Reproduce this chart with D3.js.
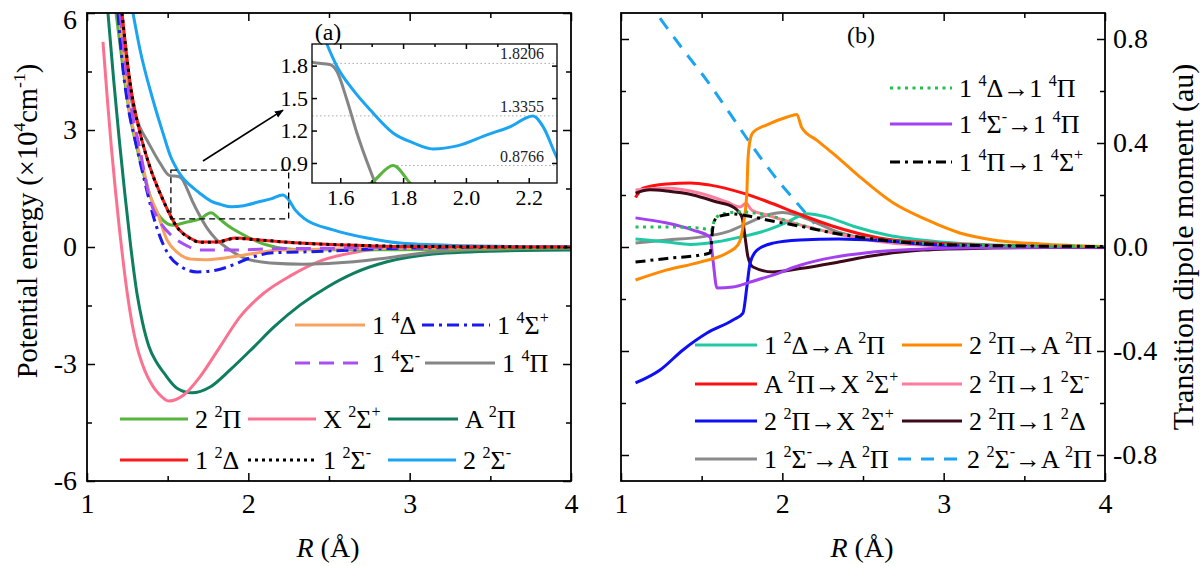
<!DOCTYPE html>
<html lang="en">
<head>
<meta charset="utf-8">
<title>PECs and TDMs</title>
<script src="https://cdn.jsdelivr.net/npm/d3@7/dist/d3.min.js"></script>
<style>
  body { margin: 0; background: #fff; }
</style>
</head>
<body>
<script>
// ---- data: potential energy curves (R in Å, E in 10^4 cm^-1) ----
var pec_22Pi  = [[1.18,6.0],[1.217,4.79],[1.26,3.51],[1.329,2.23],[1.39,1.33],[1.453,0.77],[1.533,0.56],[1.62,0.64],[1.70,0.72],[1.768,0.8766],[1.822,0.715],[1.87,0.56],[1.949,0.36],[2.116,0.05],[2.32,-0.07],[2.94,-0.07],[4,-0.03]];
var pec_X2Sp  = [[1.099,5.26],[1.125,3.85],[1.15,2.6],[1.175,1.5],[1.20,0.5],[1.225,-0.4],[1.25,-1.2],[1.28,-1.98],[1.31,-2.56],[1.34,-2.97],[1.372,-3.3],[1.41,-3.58],[1.446,-3.77],[1.508,-3.95],[1.601,-3.79],[1.70,-3.33],[1.824,-2.56],[1.948,-1.79],[2.097,-1.18],[2.26,-0.74],[2.444,-0.36],[2.655,-0.14],[2.86,-0.04],[3.3,-0.01],[4,0]];
var pec_A2Pi  = [[1.13,6.0],[1.165,4.3],[1.20,2.75],[1.235,1.35],[1.27,0.05],[1.31,-1.2],[1.345,-1.95],[1.384,-2.55],[1.43,-2.95],[1.477,-3.23],[1.558,-3.62],[1.651,-3.74],[1.763,-3.59],[1.887,-3.15],[2.035,-2.56],[2.159,-2.05],[2.32,-1.49],[2.488,-1.03],[2.655,-0.67],[2.86,-0.38],[3.145,-0.18],[3.56,-0.10],[4,-0.08]];
var pec_12Del = [[1.217,6.0],[1.242,5.05],[1.267,4.21],[1.329,2.92],[1.39,2.05],[1.471,1.21],[1.558,0.51],[1.639,0.23],[1.70,0.13],[1.806,0.13],[1.918,0.23],[2.07,0.18],[2.32,0.10],[2.63,0.05],[2.94,0.01],[4,0]];
var pec_12Sm  = [[1.217,6.0],[1.242,5.05],[1.267,4.21],[1.329,2.92],[1.39,2.05],[1.471,1.21],[1.558,0.51],[1.639,0.22],[1.70,0.12],[1.806,0.13],[1.918,0.22],[2.07,0.18],[2.32,0.10],[2.63,0.05],[2.94,0.02],[4,0]];
var pec_22Sm  = [[1.285,6.0],[1.329,5.05],[1.409,3.77],[1.471,2.92],[1.52,2.3],[1.558,1.995],[1.59,1.79],[1.64,1.578],[1.695,1.392],[1.768,1.178],[1.832,1.086],[1.895,1.03],[1.972,1.058],[2.067,1.16],[2.14,1.234],[2.214,1.3355],[2.246,1.234],[2.29,0.95],[2.35,0.72],[2.525,0.44],[2.736,0.23],[2.94,0.10],[3.356,0.03],[4,0]];
var pec_14Del = [[1.198,6.0],[1.229,4.79],[1.254,3.77],[1.304,2.74],[1.347,2.05],[1.39,1.33],[1.434,0.90],[1.496,0.18],[1.558,-0.13],[1.639,-0.31],[1.732,-0.33],[1.856,-0.28],[2.011,-0.18],[2.197,-0.08],[2.507,-0.05],[2.94,-0.03],[4,0]];
var pec_14Sp  = [[1.192,6.0],[1.217,4.79],[1.248,3.77],[1.298,2.74],[1.341,1.97],[1.378,1.33],[1.409,0.82],[1.453,0.26],[1.496,-0.13],[1.577,-0.49],[1.682,-0.64],[1.806,-0.59],[1.905,-0.46],[2.011,-0.28],[2.153,-0.15],[2.32,-0.13],[2.63,-0.08],[2.94,-0.03],[4,0]];
var pec_14Sm  = [[1.205,6.0],[1.236,4.79],[1.267,3.77],[1.329,2.49],[1.39,1.21],[1.453,0.64],[1.533,0.26],[1.62,0.03],[1.70,-0.08],[1.905,-0.08],[2.116,-0.05],[2.525,-0.03],[2.94,0],[4,0]];
var pec_14Pi  = [[1.20,6.0],[1.23,4.95],[1.26,4.1],[1.29,3.5],[1.33,3.05],[1.372,2.74],[1.453,2.15],[1.513,1.83],[1.567,1.81],[1.59,1.744],[1.621,1.485],[1.653,1.178],[1.695,0.835],[1.75,0.45],[1.80,0.2],[1.86,0.0],[1.973,-0.28],[2.135,-0.41],[2.345,-0.44],[2.655,-0.38],[2.86,-0.28],[3.145,-0.13],[3.56,-0.05],[4,0]];

// ---- data: transition dipole moments (au) ----
var tdm_12Del_A2Pi  = [[1.09,0.031],[1.285,0.019],[1.43,0.01],[1.595,0.02],[1.738,0.038],[1.905,0.065],[2.03,0.096],[2.153,0.128],[2.277,0.115],[2.44,0.08],[2.65,0.046],[2.98,0.019],[3.3,0.008],[4,0.001]];
var tdm_22Pi_A2Pi   = [[1.09,-0.127],[1.285,-0.088],[1.49,-0.058],[1.657,-0.023],[1.725,0.008],[1.756,0.077],[1.78,0.21],[1.787,0.335],[1.80,0.41],[1.818,0.44],[1.905,0.47],[2.03,0.50],[2.09,0.51],[2.12,0.46],[2.215,0.41],[2.314,0.36],[2.48,0.27],[2.686,0.17],[2.897,0.104],[3.10,0.054],[3.306,0.027],[3.6,0.012],[4,0.002]];
var tdm_A2Pi_X2Sp   = [[1.09,0.19],[1.136,0.226],[1.285,0.242],[1.43,0.246],[1.552,0.238],[1.756,0.207],[1.905,0.175],[2.09,0.13],[2.314,0.08],[2.6,0.035],[2.94,0.015],[3.4,0.004],[4,0]];
var tdm_22Pi_12Sm   = [[1.09,0.219],[1.285,0.226],[1.49,0.207],[1.657,0.173],[1.738,0.154],[1.775,0.168],[1.81,0.142],[1.905,0.123],[2.11,0.085],[2.314,0.054],[2.624,0.019],[3.0,0.004],[4,-0.003]];
var tdm_22Pi_X2Sp   = [[1.09,-0.523],[1.242,-0.473],[1.384,-0.396],[1.533,-0.331],[1.694,-0.281],[1.756,-0.254],[1.78,-0.154],[1.80,-0.062],[1.843,-0.012],[1.942,0.015],[2.11,0.027],[2.35,0.031],[2.6,0.025],[2.9,0.01],[3.3,0.002],[4,0]];
var tdm_22Pi_12Del  = [[1.09,0.207],[1.18,0.22],[1.285,0.215],[1.446,0.20],[1.595,0.173],[1.694,0.154],[1.75,0.115],[1.769,0.038],[1.787,-0.038],[1.818,-0.077],[1.942,-0.096],[2.11,-0.083],[2.35,-0.058],[2.55,-0.035],[2.87,-0.012],[3.3,-0.004],[4,0]];
var tdm_12Sm_A2Pi   = [[1.09,0.015],[1.285,0.027],[1.49,0.038],[1.657,0.058],[1.80,0.096],[1.905,0.123],[2.0,0.133],[2.11,0.118],[2.215,0.092],[2.314,0.065],[2.45,0.04],[2.7,0.018],[3.1,0.005],[4,0]];
var tdm_22Sm_A2Pi   = [[1.242,0.88],[1.384,0.76],[1.533,0.64],[1.657,0.53],[1.80,0.40],[1.942,0.28],[2.09,0.17],[2.2,0.09]];
var tdm_14Del_14Pi  = [[1.09,0.077],[1.285,0.077],[1.49,0.073],[1.56,0.065],[1.583,0.11],[1.657,0.131],[1.738,0.135],[1.905,0.123],[2.11,0.085],[2.314,0.055],[2.525,0.035],[2.8,0.017],[3.2,0.006],[4,0.002]];
var tdm_14Sm_14Pi   = [[1.09,0.112],[1.285,0.092],[1.446,0.065],[1.552,0.038],[1.57,-0.05],[1.595,-0.158],[1.694,-0.154],[1.80,-0.135],[1.942,-0.108],[2.11,-0.07],[2.314,-0.04],[2.525,-0.022],[2.8,-0.01],[3.3,-0.002],[4,0]];
var tdm_14Pi_14Sp   = [[1.09,-0.058],[1.285,-0.044],[1.49,-0.031],[1.552,-0.023],[1.57,0.077],[1.595,0.115],[1.694,0.127],[1.80,0.118],[1.905,0.104],[2.11,0.08],[2.314,0.054],[2.525,0.034],[2.8,0.016],[3.2,0.006],[4,0.002]];

// ---- ticks and labels ----
var rTicks = [1, 2, 3, 4];
var rMinor = [1.5, 2.5, 3.5];
var eTicks = [-6, -3, 0, 3, 6];
var eMinor = [-4.5, -1.5, 1.5, 4.5];
var dTicks = [-0.8, -0.4, 0, 0.4, 0.8];
var dMinor = [-0.6, -0.2, 0.2, 0.6];
var insetRTicks = [1.6, 1.8, 2.0, 2.2];
var insetRMinor = [1.7, 1.9, 2.1];
var insetETicks = [0.9, 1.2, 1.5, 1.8];
var insetRefE = [1.8206, 1.3355, 0.8766];
var insetRefLabels = ["1.8206", "1.3355", "0.8766"];
var insetRefFrom = [1.575, 1.51, 1.768];
var zoomBoxR = [1.52, 2.25];
var zoomBoxE = [0.72, 1.97];
var arrowFrom = [1.719, 2.205];
var arrowTo = [2.215, 3.51];

var font = '"Liberation Serif","Times New Roman",serif';
var w = 1200, h = 566;

var svg = d3.select('body').append('svg')
            .attr('width', w)
            .attr('height', h)
            .attr('font-family', font);
svg.append('rect').attr('width', w).attr('height', h).attr('fill', '#fff');

var xL = d3.scaleLinear().domain([1, 4]).range([87, 571]);
var yL = d3.scaleLinear().domain([-6, 6]).range([481, 13]);
var xR = d3.scaleLinear().domain([1, 4]).range([621, 1105]);
var yR = d3.scaleLinear().domain([-0.9, 0.9]).range([481, 13]);
var xI = d3.scaleLinear().domain([1.51, 2.29]).range([312, 557]);
var yI = d3.scaleLinear().domain([0.715, 2.0]).range([183, 44]);

// text with ^{...} superscripts
function rich(sel, str, fs) {
  var parts = str.split(/(\^\{[^}]*\})/);
  var up = false;
  parts.forEach(function(p) {
    if (!p) return;
    if (p.indexOf('^{') === 0) {
      sel.append('tspan').attr('font-size', fs * 0.62).attr('dy', up ? 0 : -fs * 0.42).text(p.slice(2, -1));
      up = true;
    } else {
      sel.append('tspan').attr('font-size', fs).attr('dy', up ? fs * 0.42 : 0).text(p);
      up = false;
    }
  });
  return sel;
}

function addAxis(gen, scale, vals, size, tx, ty, fmt, pad, fs) {
  var a = gen(scale).tickValues(vals).tickSize(-size)
            .tickPadding(pad || 0).tickFormat(fmt || function() { return ''; });
  var g = svg.append('g').attr('transform', 'translate(' + tx + ',' + ty + ')').call(a);
  g.select('.domain').remove();
  g.selectAll('line').attr('stroke', '#000').attr('stroke-width', 1.5);
  g.selectAll('text').attr('font-family', font).attr('font-size', fs || 28).attr('fill', '#000');
  return g;
}

function clip(id, x, y, cw, ch) {
  svg.append('clipPath').attr('id', id).append('rect')
     .attr('x', x).attr('y', y).attr('width', cw).attr('height', ch);
}
clip('clipL', 87, 13, 484, 468);
clip('clipR', 621, 13, 484, 468);
clip('clipI', 312, 44, 245, 139);

function drawLines(series, x, y, clipId) {
  var line = d3.line().x(function(d) { return x(d[0]); })
                      .y(function(d) { return y(d[1]); })
                      .curve(d3.curveMonotoneX);
  svg.append('g').attr('clip-path', 'url(#' + clipId + ')')
     .selectAll('path').data(series).enter().append('path')
     .attr('d', function(s) { return line(s.data); })
     .attr('fill', 'none')
     .attr('stroke', function(s) { return s.color; })
     .attr('stroke-width', function(s) { return s.width || 3; })
     .attr('stroke-dasharray', function(s) { return s.dash || null; })
     .attr('stroke-linecap', function(s) { return s.cap || 'butt'; });
}

function legend(items, fs) {
  items.forEach(function(it) {
    svg.append('line')
       .attr('x1', it.x).attr('x2', it.x + it.len).attr('y1', it.y).attr('y2', it.y)
       .attr('stroke', it.s.color).attr('stroke-width', it.s.width || 3)
       .attr('stroke-dasharray', it.s.dash || null)
       .attr('stroke-linecap', it.s.cap || 'butt');
    var t = svg.append('text').attr('x', it.x + it.len + 7).attr('y', it.y + fs * 0.36)
               .attr('font-size', fs).attr('fill', '#000');
    rich(t, it.s.name, fs);
  });
}

// ---- series tables ----
var S = {
  p22Pi:  { name: '2 ^{2}Π', data: pec_22Pi, color: '#57b43c' },
  pX2Sp:  { name: 'X ^{2}Σ^{+}', data: pec_X2Sp, color: '#fb7291' },
  pA2Pi:  { name: 'A ^{2}Π', data: pec_A2Pi, color: '#0f7d5f' },
  p12Del: { name: '1 ^{2}Δ', data: pec_12Del, color: '#ff1a1a' },
  p12Sm:  { name: '1 ^{2}Σ^{-}', data: pec_12Sm, color: '#000', dash: '3,4' },
  p22Sm:  { name: '2 ^{2}Σ^{-}', data: pec_22Sm, color: '#1aa4f2' },
  p14Del: { name: '1 ^{4}Δ', data: pec_14Del, color: '#f6a263' },
  p14Sp:  { name: '1 ^{4}Σ^{+}', data: pec_14Sp, color: '#1a1aee', dash: '12,5,3,5' },
  p14Sm:  { name: '1 ^{4}Σ^{-}', data: pec_14Sm, color: '#a94ef2', dash: '15,9' },
  p14Pi:  { name: '1 ^{4}Π', data: pec_14Pi, color: '#858585' },

  tA:  { name: '1 ^{2}Δ→A ^{2}Π', data: tdm_12Del_A2Pi, color: '#20c9a5' },
  tB:  { name: '2 ^{2}Π→A ^{2}Π', data: tdm_22Pi_A2Pi, color: '#ff8a00' },
  tC:  { name: 'A ^{2}Π→X ^{2}Σ^{+}', data: tdm_A2Pi_X2Sp, color: '#ff1010' },
  tD:  { name: '2 ^{2}Π→1 ^{2}Σ^{-}', data: tdm_22Pi_12Sm, color: '#ff7c9c' },
  tE:  { name: '2 ^{2}Π→X ^{2}Σ^{+}', data: tdm_22Pi_X2Sp, color: '#0f0ff5' },
  tF:  { name: '2 ^{2}Π→1 ^{2}Δ', data: tdm_22Pi_12Del, color: '#3c0a18' },
  tG:  { name: '1 ^{2}Σ^{-}→A ^{2}Π', data: tdm_12Sm_A2Pi, color: '#8a8a8a' },
  tH:  { name: '2 ^{2}Σ^{-}→A ^{2}Π', data: tdm_22Sm_A2Pi, color: '#1aa4f2', dash: '13,10' },
  tI:  { name: '1 ^{4}Δ→1 ^{4}Π', data: tdm_14Del_14Pi, color: '#1fbf50', dash: '3,4.5' },
  tJ:  { name: '1 ^{4}Σ^{-}→1 ^{4}Π', data: tdm_14Sm_14Pi, color: '#a340f0' },
  tK:  { name: '1 ^{4}Π→1 ^{4}Σ^{+}', data: tdm_14Pi_14Sp, color: '#000', dash: '10,5,3,5' }
};

// ---- left panel ----
drawLines([S.pA2Pi, S.pX2Sp, S.p14Pi, S.p22Pi, S.p14Del, S.p14Sp, S.p14Sm, S.p22Sm, S.p12Del, S.p12Sm], xL, yL, 'clipL');

var yAx = addAxis(d3.axisLeft, yL, eTicks, 8, 87, 0, function(d) { return String(d); }, 10, 28);
// top label sits a little lower, as in the original
yAx.selectAll('.tick').filter(function(d) { return d === 6; }).select('text').attr('dy', '0.55em');
addAxis(d3.axisLeft, yL, eMinor, 5, 87, 0);
addAxis(d3.axisRight, yL, eTicks, 8, 571, 0);
addAxis(d3.axisRight, yL, eMinor, 5, 571, 0);
addAxis(d3.axisBottom, xL, rTicks, 8, 0, 481, function(d) { return String(d); }, 12, 28);
addAxis(d3.axisBottom, xL, rMinor, 5, 0, 481);
addAxis(d3.axisTop, xL, rTicks, 8, 0, 13);
addAxis(d3.axisTop, xL, rMinor, 5, 0, 13);
svg.append('rect').attr('x', 87).attr('y', 13).attr('width', 484).attr('height', 468)
   .attr('fill', 'none').attr('stroke', '#000').attr('stroke-width', 1.8);

// zoom box and arrow
svg.append('rect')
   .attr('x', xL(zoomBoxR[0])).attr('y', yL(zoomBoxE[1]))
   .attr('width', xL(zoomBoxR[1]) - xL(zoomBoxR[0]))
   .attr('height', yL(zoomBoxE[0]) - yL(zoomBoxE[1]))
   .attr('fill', 'none').attr('stroke', '#000').attr('stroke-width', 1.3)
   .attr('stroke-dasharray', '6,4');
svg.append('defs').append('marker').attr('id', 'arr')
   .attr('viewBox', '0 0 10 10').attr('refX', 9).attr('refY', 5)
   .attr('markerWidth', 9).attr('markerHeight', 9).attr('orient', 'auto')
   .attr('markerUnits', 'userSpaceOnUse')
   .append('path').attr('d', 'M0,1 L10,5 L0,9 Z').attr('fill', '#000');
svg.append('line')
   .attr('x1', xL(arrowFrom[0])).attr('y1', yL(arrowFrom[1]))
   .attr('x2', xL(arrowTo[0])).attr('y2', yL(arrowTo[1]))
   .attr('stroke', '#000').attr('stroke-width', 1.6).attr('marker-end', 'url(#arr)');

// inset (a)
svg.append('rect').attr('x', 312).attr('y', 44).attr('width', 245).attr('height', 139).attr('fill', '#fff');
var refG = svg.append('g');
insetRefE.forEach(function(v, i) {
  refG.append('line')
      .attr('x1', xI(insetRefFrom[i])).attr('x2', xI(2.29))
      .attr('y1', yI(v)).attr('y2', yI(v))
      .attr('stroke', '#aaa').attr('stroke-width', 1).attr('stroke-dasharray', '1.5,2.5');
  refG.append('text').attr('x', 544).attr('y', yI(v) - 4)
      .attr('text-anchor', 'end').attr('font-size', 16).attr('fill', '#222')
      .text(insetRefLabels[i]);
});
drawLines([S.p14Pi, S.p22Pi, S.p22Sm], xI, yI, 'clipI');
addAxis(d3.axisLeft, yI, insetETicks, 5, 312, 0, function(d) { return d.toFixed(1); }, 4, 22);
addAxis(d3.axisRight, yI, insetETicks, 5, 557, 0);
addAxis(d3.axisBottom, xI, insetRTicks, 5, 0, 183, function(d) { return d.toFixed(1); }, 6, 22);
addAxis(d3.axisBottom, xI, insetRMinor, 3, 0, 183);
addAxis(d3.axisTop, xI, insetRTicks, 5, 0, 44);
addAxis(d3.axisTop, xI, insetRMinor, 3, 0, 44);
svg.append('rect').attr('x', 312).attr('y', 44).attr('width', 245).attr('height', 139)
   .attr('fill', 'none').attr('stroke', '#000').attr('stroke-width', 1.3);
svg.append('text').attr('x', 328).attr('y', 40).attr('text-anchor', 'middle')
   .attr('font-size', 24).text('(a)');

legend([
  { s: S.p14Del, x: 295, y: 325, len: 70 },
  { s: S.p14Sp,  x: 422, y: 325, len: 68 },
  { s: S.p14Sm,  x: 295, y: 363, len: 70 },
  { s: S.p14Pi,  x: 425, y: 363, len: 70 },
  { s: S.p22Pi,  x: 120, y: 419, len: 68 },
  { s: S.pX2Sp,  x: 248, y: 419, len: 68 },
  { s: S.pA2Pi,  x: 388, y: 419, len: 70 },
  { s: S.p12Del, x: 120, y: 460, len: 68 },
  { s: S.p12Sm,  x: 248, y: 460, len: 68 },
  { s: S.p22Sm,  x: 388, y: 460, len: 68 }
], 26);

var yt = svg.append('text').attr('transform', 'translate(37,221) rotate(-90)')
            .attr('text-anchor', 'middle').attr('font-size', 28.5);
rich(yt, 'Potential energy (×10^{4}cm^{-1})', 28.5);
var xt = svg.append('text').attr('x', 328).attr('y', 557).attr('text-anchor', 'middle').attr('font-size', 28);
xt.append('tspan').attr('font-style', 'italic').text('R');
xt.append('tspan').text(' (Å)');

// ---- right panel ----
drawLines([S.tH, S.tG, S.tA, S.tC, S.tD, S.tF, S.tE, S.tJ, S.tB, S.tI, S.tK], xR, yR, 'clipR');

addAxis(d3.axisLeft, yR, dTicks, 8, 621, 0);
addAxis(d3.axisLeft, yR, dMinor, 5, 621, 0);
addAxis(d3.axisRight, yR, dTicks, 8, 1105, 0, function(d) { return d.toFixed(1); }, 8, 28);
addAxis(d3.axisRight, yR, dMinor, 5, 1105, 0);
addAxis(d3.axisBottom, xR, rTicks, 8, 0, 481, function(d) { return String(d); }, 12, 28);
addAxis(d3.axisBottom, xR, rMinor, 5, 0, 481);
addAxis(d3.axisTop, xR, rTicks, 8, 0, 13);
addAxis(d3.axisTop, xR, rMinor, 5, 0, 13);
svg.append('rect').attr('x', 621).attr('y', 13).attr('width', 484).attr('height', 468)
   .attr('fill', 'none').attr('stroke', '#000').attr('stroke-width', 1.8);
svg.append('text').attr('x', 861).attr('y', 43).attr('text-anchor', 'middle')
   .attr('font-size', 24).text('(b)');

legend([
  { s: S.tI, x: 890, y: 88, len: 62 },
  { s: S.tJ, x: 890, y: 124, len: 62 },
  { s: S.tK, x: 890, y: 162, len: 62 },
  { s: S.tA, x: 695, y: 345, len: 62 },
  { s: S.tB, x: 902, y: 345, len: 60 },
  { s: S.tC, x: 695, y: 384, len: 62 },
  { s: S.tD, x: 902, y: 384, len: 60 },
  { s: S.tE, x: 695, y: 421, len: 62 },
  { s: S.tF, x: 902, y: 421, len: 60 },
  { s: S.tG, x: 695, y: 459, len: 62 },
  { s: S.tH, x: 898, y: 459, len: 62 }
], 26);

var rt = svg.append('text').attr('transform', 'translate(1193,247) rotate(-90)')
            .attr('text-anchor', 'middle').attr('font-size', 30)
            .text('Transition dipole moment (au)');
var xt2 = svg.append('text').attr('x', 862).attr('y', 557).attr('text-anchor', 'middle').attr('font-size', 28);
xt2.append('tspan').attr('font-style', 'italic').text('R');
xt2.append('tspan').text(' (Å)');
</script>
</body>
</html>
